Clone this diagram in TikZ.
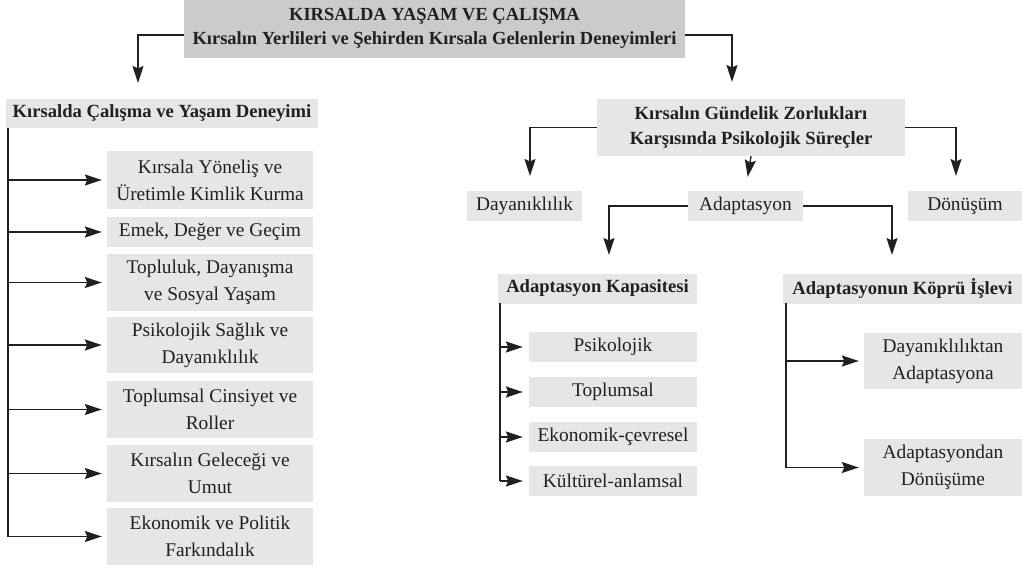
\documentclass[tikz,border=0pt]{standalone}
\usepackage{fontspec}
\setmainfont{Liberation Serif}
\usetikzlibrary{arrows.meta}
\definecolor{topgray}{HTML}{CBCBCB}
\definecolor{boxgray}{HTML}{E6E6E8}
\definecolor{ink}{HTML}{231F20}
\begin{document}
\begin{tikzpicture}[x=1pt,y=-1pt,
  box/.style={fill=boxgray, inner sep=0pt, align=center, text=ink,
    font=\fontsize{19.4}{27}\selectfont},
  hbox/.style={box, font=\fontsize{18.6}{25}\selectfont\bfseries},
  tbox/.style={box, fill=topgray, font=\fontsize{18.5}{24}\selectfont\bfseries},
  conn/.style={draw=ink, line width=1.4pt},
  arr/.style={conn, -{Stealth[length=17pt,width=11pt,inset=2.5pt]}},
]
\useasboundingbox (0,0) rectangle (1022,569);

% top
\node[tbox, minimum width=501pt, minimum height=60pt] (top) at (434.5,28) {KIRSALDA YAŞAM VE ÇALIŞMA\\Kırsalın Yerlileri ve Şehirden Kırsala Gelenlerin Deneyimleri};

% left branch
\node[hbox, minimum width=312pt, minimum height=29pt] (L) at (162,113.5) {Kırsalda Çalışma ve Yaşam Deneyimi};
\node[box, minimum width=206pt, minimum height=58pt] (L1) at (210,180) {Kırsala Yöneliş ve\\Üretimle Kimlik Kurma};
\node[box, minimum width=206pt, minimum height=30pt] (L2) at (210,232) {Emek, Değer ve Geçim};
\node[box, minimum width=206pt, minimum height=57pt] (L3) at (210,282.5) {Topluluk, Dayanışma\\ve Sosyal Yaşam};
\node[box, minimum width=206pt, minimum height=56pt] (L4) at (210,345) {Psikolojik Sağlık ve\\Dayanıklılık};
\node[box, minimum width=206pt, minimum height=57pt] (L5) at (210,409.5) {Toplumsal Cinsiyet ve\\Roller};
\node[box, minimum width=206pt, minimum height=57pt] (L6) at (210,473.5) {Kırsalın Geleceği ve\\Umut};
\node[box, minimum width=206pt, minimum height=57pt] (L7) at (210,536.5) {Ekonomik ve Politik\\Farkındalık};

% right branch
\node[hbox, minimum width=308pt, minimum height=57pt] (R) at (751,127.5) {Kırsalın Gündelik Zorlukları\\Karşısında Psikolojik Süreçler};
\node[box, minimum width=115pt, minimum height=30pt] (Day) at (524.5,206) {Dayanıklılık};
\node[box, minimum width=115pt, minimum height=30pt] (Ada) at (745.5,206) {Adaptasyon};
\node[box, minimum width=114pt, minimum height=30pt] (Don) at (965,206) {Dönüşüm};

\node[hbox, minimum width=199pt, minimum height=30pt] (K) at (597.5,288.5) {Adaptasyon Kapasitesi};
\node[box, minimum width=168pt, minimum height=30pt] (K1) at (613,347) {Psikolojik};
\node[box, minimum width=168pt, minimum height=30pt] (K2) at (613,392) {Toplumsal};
\node[box, minimum width=168pt, minimum height=30pt] (K3) at (613,437) {Ekonomik-çevresel};
\node[box, minimum width=168pt, minimum height=30pt] (K4) at (613,481) {Kültürel-anlamsal};

\node[hbox, minimum width=239pt, minimum height=30pt] (B) at (902.5,288.5) {Adaptasyonun Köprü İşlevi};
\node[box, minimum width=158pt, minimum height=56pt] (B1) at (943,361) {Dayanıklılıktan\\Adaptasyona};
\node[box, minimum width=158pt, minimum height=57pt] (B2) at (943,467.5) {Adaptasyondan\\Dönüşüme};

% junction coordinates
\coordinate (tl) at (184,35);
\coordinate (tr) at (685,35);
\coordinate (jL) at (138,99);
\coordinate (jR) at (732,99);
\coordinate (vL) at (8,128);
\coordinate (vK) at (500,303);
\coordinate (vB) at (786,303);
\coordinate (jDay) at (530,191);
\coordinate (jDon) at (956,191);
\coordinate (jK) at (609,274);
\coordinate (jB) at (892,274);

% connectors
\draw[arr, shorten >=16pt] (tl) -| (jL);
\draw[arr, shorten >=17pt] (tr) -| (jR);

\draw[conn] (vL) -- (vL |- L7.west);
\foreach \n in {L1,L2,L3,L4,L5,L6,L7}
  \draw[arr, shorten >=5pt] (vL |- \n.west) -- (\n.west);

\draw[arr, shorten >=15pt] (R.west) -| (jDay);
\draw[arr, shorten >=15pt] (R.east) -| (jDon);
\draw[arr, shorten >=14pt] (R.south) -- (Ada.north);

\draw[arr, shorten >=19pt] (Ada.west) -| (jK);
\draw[arr, shorten >=19pt] (Ada.east) -| (jB);

\draw[conn] (vK) -- (vK |- K4.west);
\foreach \n in {K1,K2,K3,K4}
  \draw[arr, shorten >=6pt] (vK |- \n.west) -- (\n.west);

\draw[conn] (vB) -- (vB |- B2.west);
\foreach \n in {B1,B2}
  \draw[arr, shorten >=5pt] (vB |- \n.west) -- (\n.west);
\end{tikzpicture}
\end{document}
